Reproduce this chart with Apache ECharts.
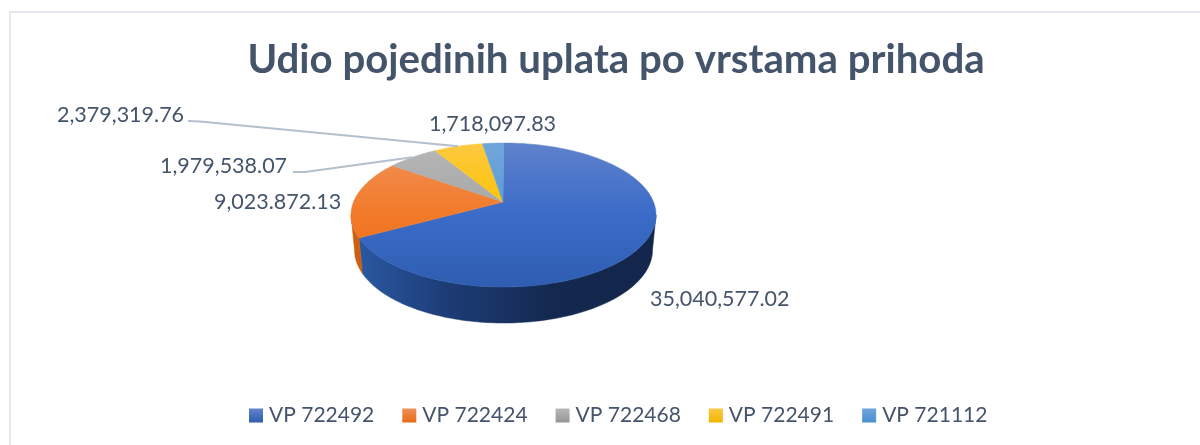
<!DOCTYPE html>
<html>
<head>
<meta charset="utf-8">
<style>
  html, body { margin: 0; padding: 0; background: #fff; }
  #chart { width: 1200px; height: 445px; }
</style>
</head>
<body>
<div id="chart"></div>
<script src="https://cdn.jsdelivr.net/npm/echarts@6/dist/echarts.min.js"></script>
<script>
const categories = ['VP 722492', 'VP 722424', 'VP 722468', 'VP 722491', 'VP 721112'];
const values = [35040577.02, 9023872.13, 1979538.07, 2379319.76, 1718097.83];
// printed as in the source, including the typo in the second one
const valueLabels = ['35,040,577.02', '9,023.872.13', '1,979,538.07', '2,379,319.76', '1,718,097.83'];

const topColors = [
  ['#5f82cb', '#3a6bc8', '#2f5db1'],
  ['#f0915a', '#f27a28', '#e66a17'],
  ['#b7b7b7', '#a5a5a5', '#969696'],
  ['#fdc93f', '#fcc200', '#f2b500'],
  ['#6fa6dc', '#5b9bd5', '#4a8fd0'],
];
const sideColors = [
  ['#2c5ba6', '#1d3d78', '#14294f', '#13264c'],
  ['#d0600f', '#c0560d', '#b94f0b', '#b94f0b'],
  ['#7c7c7c', '#7c7c7c', '#7c7c7c', '#7c7c7c'],
  ['#bf9000', '#bf9000', '#bf9000', '#bf9000'],
  ['#2e75b6', '#2e75b6', '#2e75b6', '#2e75b6'],
];

// where the pie sits on the page
const TOP = { cx: 503.5, cy: 215, rx: 152.5, ry: 72 };
const BOTTOM = { cx: 503.5, cy: 250, rx: 149, ry: 73 };
const APEX = [503, 202];

// left edge / vertical middle of each value label, leader start if it has one
const labelSpots = [
  { x: 650, y: 299 },
  { x: 214, y: 202 },
  { x: 160, y: 166, leader: [[293, 172], [305, 172]] },
  { x: 57, y: 115, leader: [[188, 121], [200, 121.5]] },
  { x: 429, y: 124 },
];

const total = values.reduce((a, b) => a + b, 0);

// the 3D view squeezes the slices near the back a bit, so bend the angle slightly
const viewAngle = (deg) => deg - 5 * Math.sin((5 * deg * Math.PI) / 180);

// angle 0 is the back of the pie, going clockwise
const rim = (e, deg) => {
  const a = (deg * Math.PI) / 180;
  return [e.cx + e.rx * Math.sin(a), e.cy - e.ry * Math.cos(a)];
};

const arcPoints = (e, from, to) => {
  const pts = [];
  const n = Math.max(2, Math.ceil((to - from) / 1.5));
  for (let i = 0; i <= n; i++) pts.push(rim(e, from + ((to - from) * i) / n));
  return pts;
};

const vGradient = (stops) => ({
  type: 'linear', x: 0, y: TOP.cy - TOP.ry, x2: 0, y2: TOP.cy + TOP.ry, global: true,
  colorStops: [{ offset: 0, color: stops[0] }, { offset: 0.5, color: stops[1] }, { offset: 1, color: stops[2] }],
});

const hGradient = (stops) => ({
  type: 'linear', x: 350, y: 0, x2: 660, y2: 0, global: true,
  colorStops: [
    { offset: 0, color: stops[0] },
    { offset: 0.3, color: stops[1] },
    { offset: 0.65, color: stops[2] },
    { offset: 1, color: stops[3] },
  ],
});

const renderSlice = (idx) => (params, api) => {
  const before = values.slice(0, idx).reduce((a, b) => a + b, 0);
  const start = viewAngle((before / total) * 360);
  const end = viewAngle(((before + api.value(0)) / total) * 360);
  const children = [];

  // side wall only for the part of the rim facing the viewer
  const sideFrom = Math.max(start, 90);
  const sideTo = Math.min(end, 270);
  if (sideTo > sideFrom) {
    const fill = hGradient(sideColors[idx]);
    children.push({
      type: 'polygon',
      shape: { points: arcPoints(TOP, sideFrom, sideTo).concat(arcPoints(BOTTOM, sideFrom, sideTo).reverse()) },
      style: { fill, stroke: fill, lineWidth: 0.5 },
    });
  }

  const fill = vGradient(topColors[idx]);
  children.push({
    type: 'polygon',
    shape: { points: [APEX].concat(arcPoints(TOP, start, end)) },
    style: { fill, stroke: fill, lineWidth: 0.5 },
  });

  const spot = labelSpots[idx];
  if (spot.leader) {
    children.push({
      type: 'polyline',
      shape: { points: spot.leader.concat([rim(TOP, (start + end) / 2)]) },
      style: { stroke: '#b4bfcd', lineWidth: 2, fill: null },
      z2: 5,
    });
  }
  children.push({
    type: 'text',
    style: {
      text: valueLabels[idx], x: spot.x, y: spot.y,
      fill: '#44546a', font: '21.5px Lato', align: 'left', verticalAlign: 'middle',
    },
    z2: 6,
  });
  return { type: 'group', children };
};

const chart = echarts.init(document.getElementById('chart'));
chart.setOption({
  animation: false,
  backgroundColor: '#fff',
  title: {
    text: 'Udio pojedinih uplata po vrstama prihoda',
    left: 611,
    top: 35,
    textAlign: 'center',
    textStyle: { color: '#44546a', fontFamily: 'Lato', fontSize: 40.2, fontWeight: 'bold' },
  },
  legend: {
    left: 244,
    top: 400,
    icon: 'rect',
    itemWidth: 14,
    itemHeight: 14,
    itemGap: 28,
    selectedMode: false,
    textStyle: { color: '#44546a', fontFamily: 'Lato', fontSize: 21, padding: [0, 0, 0, 1] },
    data: categories.map((name, i) => ({
      name,
      itemStyle: {
        color: {
          type: 'linear', x: 0, y: 0, x2: 0, y2: 1,
          colorStops: [{ offset: 0, color: topColors[i][0] }, { offset: 1, color: topColors[i][2] }],
        },
      },
    })),
  },
  graphic: [
    { type: 'polyline', shape: { points: [[10, 445], [10, 12], [1200, 12]] }, style: { stroke: '#e4e7ee', lineWidth: 2, fill: null } },
  ],
  series: categories.map((name, i) => ({
    name,
    type: 'custom',
    coordinateSystem: 'none',
    renderItem: renderSlice(i),
    data: [values[i]],
    itemStyle: { color: topColors[i][1] },
  })),
});
</script>
</body>
</html>
